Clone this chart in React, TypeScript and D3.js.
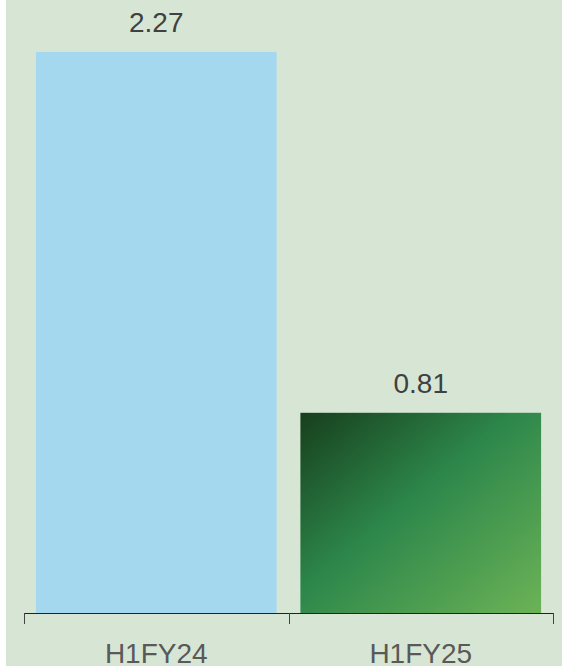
import React from "react";
import * as d3 from "d3";

const categories: string[] = ["H1FY24", "H1FY25"];
const values: number[] = [2.27, 0.81];
const valueLabels: string[] = ["2.27", "0.81"];

const W = 562;
const H = 666;
const axisY = 613;
const font = "'Liberation Sans', Arial, sans-serif";

export default function App() {
  const x = d3.scaleBand<string>().domain(categories).range([24, 553]).paddingInner(0.09).paddingOuter(0.045);
  const y = d3.scaleLinear().domain([0, 2.48]).range([axisY, 0]);
  const edges = [x.range()[0], ...categories.slice(1).map((c) => (x(c) as number) - (x.step() * x.paddingInner()) / 2), x.range()[1]];

  return (
    <svg width={W} height={H} style={{ position: "absolute", left: 0, top: 0 }}>
      <defs>
        <linearGradient id="greenGrad" x1="0" y1="0" x2="1" y2="1">
          <stop offset="0%" stopColor="#173f1c" />
          <stop offset="45%" stopColor="#2d874b" />
          <stop offset="100%" stopColor="#6cb356" />
        </linearGradient>
      </defs>
      <rect x={0} y={0} width={W} height={H} fill="#ffffff" />
      <rect x={6} y={0} width={W - 6} height={H} fill="#d7e6d4" />
      {categories.map((c, i) => {
        const bx = x(c) as number;
        const by = y(values[i]);
        return (
          <g key={c}>
            <rect
              x={bx}
              y={by}
              width={x.bandwidth()}
              height={axisY - by}
              fill={i === 0 ? "#a3d8ef" : "url(#greenGrad)"}
            />
            <text
              x={bx + x.bandwidth() / 2}
              y={by - 20}
              textAnchor="middle"
              fontFamily={font}
              fontSize={28}
              fill="#404040"
            >
              {valueLabels[i]}
            </text>
            <text
              x={bx + x.bandwidth() / 2}
              y={663}
              textAnchor="middle"
              fontFamily={font}
              fontSize={28}
              fill="#595959"
            >
              {c}
            </text>
          </g>
        );
      })}
      <line x1={edges[0]} x2={edges[edges.length - 1]} y1={axisY + 0.5} y2={axisY + 0.5} stroke="#222" strokeWidth={1} />
      {edges.map((e, i) => (
        <line key={i} x1={Math.round(e) + 0.5} x2={Math.round(e) + 0.5} y1={axisY} y2={axisY + 11} stroke="#444" strokeWidth={1} />
      ))}
    </svg>
  );
}
